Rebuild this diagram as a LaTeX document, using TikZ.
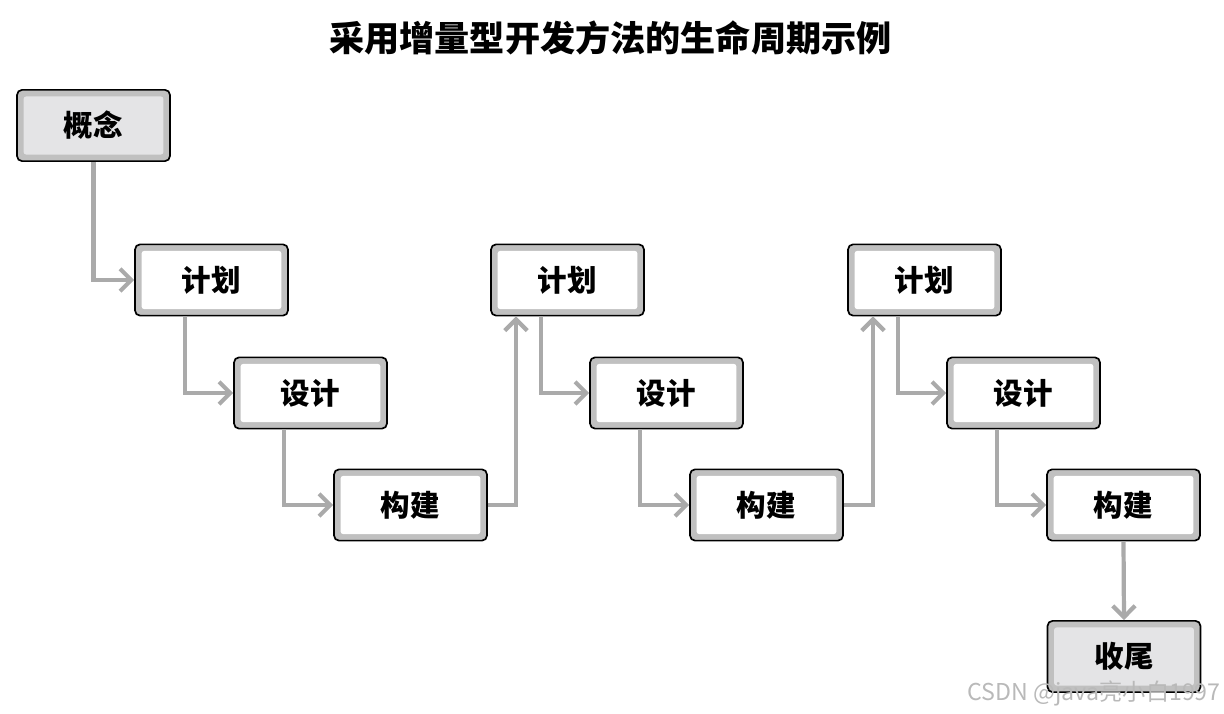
\documentclass[tikz,border=0pt]{standalone}
\usepackage{fontspec}
\setmainfont{Noto Sans CJK SC}
\usetikzlibrary{calc, positioning, arrows.meta}
\definecolor{band}{RGB}{192,192,192}
\definecolor{light}{RGB}{228,228,230}
\definecolor{flowgray}{RGB}{170,170,170}

\begin{document}
\begin{tikzpicture}[x=0.025cm, y=-0.025cm]

    \useasboundingbox (0,0) rectangle (1224,714); % same proportions as the slide image

    % boxes: black outline, grey band inside, fill drawn by the path picture
    \begin{scope}[every node/.style={rounded corners=3.5pt, draw=black, line width=1.2pt, fill=band,
                                     minimum width=3.82cm, minimum height=1.78cm,
                                     font=\bfseries\fontsize{21}{25}\selectfont},
                  stepbox/.style={path picture={\fill [white, rounded corners=2pt]
                      ([shift={(4.6pt,4.6pt)}]path picture bounding box.south west) rectangle
                      ([shift={(-4.6pt,-4.6pt)}]path picture bounding box.north east);}},
                  endbox/.style={path picture={\fill [light, rounded corners=2pt]
                      ([shift={(4.6pt,4.6pt)}]path picture bounding box.south west) rectangle
                      ([shift={(-4.6pt,-4.6pt)}]path picture bounding box.north east);}}]

    \node [endbox] (concept) at (93.5,125.5) {概念};

    % three increments, each shifted 356px to the right
    \foreach \i/\x in {1/211.5, 2/567.5, 3/924.5} {
        \node [stepbox] (plan\i)   at (\x,280)     {计划};
        \node [stepbox] (design\i) at (\x+99,393)  {设计};
        \node [stepbox] (build\i)  at (\x+199,505) {构建};
    }

    \node [endbox] (close) at (1124,656.5) {收尾};

    \end{scope}

    \node (title) at (610.5,38) {\bfseries\fontsize{25}{30}\selectfont 采用增量型开发方法的生命周期示例};
    \node [text=gray!55, anchor=east, inner sep=0pt] (mark) at (1221,693) {\fontsize{16.5}{19}\selectfont CSDN @java亮小白1997};

    % connectors
    \begin{scope}[flow/.style={draw=flowgray, line width=3pt,
                               -{Straight Barb[length=8pt, width=16pt, line width=3pt]}}]

        \draw [flow] (concept.south) |- (plan1.west);
        \foreach \i in {1,2,3} {
            \draw [flow] ($(plan\i.south)+(-26.5,0)$) |- (design\i.west);
            \draw [flow] ($(design\i.south)+(-26.5,0)$) |- (build\i.west);
        }
        \draw [flow] (build1.east) -| ($(plan2.south)+(-51.5,0)$);
        \draw [flow] (build2.east) -| ($(plan3.south)+(-51.5,0)$);
        \draw [flow] (build3.south) -- (close.north);

    \end{scope}

\end{tikzpicture}
\end{document}
